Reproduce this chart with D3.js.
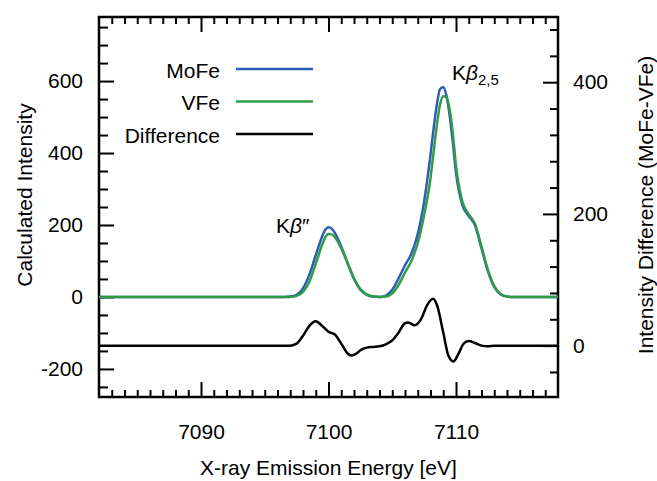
<!DOCTYPE html>
<html>
<head>
<meta charset="utf-8">
<script src="https://cdn.jsdelivr.net/npm/d3@7"></script>
<style>
  body { margin: 0; background: #fff; }
  svg text { font-family: "Liberation Sans", Arial, sans-serif; fill: #000; }
</style>
</head>
<body>
<div class="chart"></div>
<script>
// energies (eV) for the two calculated spectra
const energy = [7082, 7096, 7096.5, 7097, 7097.5, 7098, 7098.5, 7099, 7099.5, 7099.75, 7100, 7100.25, 7100.5,
	7101, 7101.5, 7102, 7102.5, 7103, 7103.5, 7104, 7104.5, 7105, 7105.5, 7106, 7106.5, 7107, 7107.5,
	7108, 7108.25, 7108.5, 7108.75, 7109, 7109.25, 7109.5, 7109.75, 7110, 7110.5, 7111, 7111.5,
	7112, 7112.5, 7113, 7113.5, 7114, 7114.5, 7118];
const mofe = [0, 0, 0, 1, 6, 24, 62, 116, 168, 187, 194, 190, 178,
	140, 94, 50, 20, 6, 1, 0, 4, 20, 52, 88, 120, 175, 265,
	395, 470, 535, 578, 583, 560, 505, 430, 345, 255, 225, 198,
	135, 72, 28, 7, 1, 0, 0];
const vfe = [0, 0, 0, 0, 3, 14, 42, 92, 145, 166, 175, 174, 166,
	135, 94, 52, 22, 7, 1, 0, 1, 10, 34, 68, 100, 150, 228,
	330, 405, 478, 535, 558, 555, 522, 455, 365, 265, 230, 202,
	140, 75, 30, 8, 1, 0, 0];

// difference curve (right axis)
const diffEnergy = [7082, 7097, 7097.5, 7098, 7098.5, 7099, 7099.5, 7100, 7100.5, 7101, 7101.5, 7101.8,
	7102.2, 7102.5, 7103, 7103.5, 7104, 7104.5, 7105, 7105.5, 7106, 7106.25, 7106.75, 7107.25, 7107.75,
	7108.2, 7108.5, 7109, 7109.4, 7109.8, 7110.2, 7110.6, 7111, 7111.5, 7112, 7112.5, 7113, 7118];
const diffValues = [0, 0, 3, 15, 30, 37, 30, 21, 17, 3, -12, -15,
	-12, -7, -3, -2, -1, 2, 8, 20, 34, 35, 31, 40, 62,
	71, 62, 20, -15, -24, -12, 3, 7, 4, 0, -1, 0, 0];

const legendLabels = ['MoFe', 'VFe', 'Difference'];
const leftTicks = [-200, 0, 200, 400, 600];
const rightTicks = [0, 200, 400];
const xTicks = [7090, 7100, 7110];

const colors = ['#2d5db6', '#2f9c47', '#000000'];

const width = 657, height = 481;
const svg = d3.select('.chart').append('svg')
	.attr('width', width)
	.attr('height', height);

const x = d3.scaleLinear().domain([7082, 7118]).range([99, 558]);
const yL = d3.scaleLinear().domain([-278, 778]).range([397, 17]);
const yR = d3.scaleLinear().domain([-78, 499]).range([397, 17]);

const fontSize = 21;
const plain = d => String(d); // hyphen minus like the original

// minor tick values
const xMinor = d3.range(7083, 7118).filter(v => v % 10 !== 0);
const leftMinor = d3.range(-250, 751, 50).filter(v => v % 200 !== 0);
const rightMinor = d3.range(-40, 481, 40).filter(v => v % 200 !== 0);

function styleAxis(g) {
	g.select('.domain').remove();
	g.selectAll('line').attr('stroke', '#000').attr('stroke-width', 2);
	g.selectAll('text').attr('font-size', fontSize + 'px').attr('font-family', '"Liberation Sans", Arial, sans-serif');
}

// bottom
svg.append('g').attr('transform', 'translate(0,397)')
	.call(d3.axisBottom(x).tickValues(xTicks).tickSize(-15).tickPadding(27).tickFormat(plain))
	.call(styleAxis);
svg.append('g').attr('transform', 'translate(0,397)')
	.call(d3.axisBottom(x).tickValues(xMinor).tickSize(-7).tickFormat(''))
	.call(styleAxis);
// top
svg.append('g').attr('transform', 'translate(0,17)')
	.call(d3.axisTop(x).tickValues(xTicks).tickSize(-15).tickFormat(''))
	.call(styleAxis);
svg.append('g').attr('transform', 'translate(0,17)')
	.call(d3.axisTop(x).tickValues(xMinor).tickSize(-7).tickFormat(''))
	.call(styleAxis);
// left
svg.append('g').attr('transform', 'translate(99,0)')
	.call(d3.axisLeft(yL).tickValues(leftTicks).tickSize(-15).tickPadding(16).tickFormat(plain))
	.call(styleAxis);
svg.append('g').attr('transform', 'translate(99,0)')
	.call(d3.axisLeft(yL).tickValues(leftMinor).tickSize(-9).tickFormat(''))
	.call(styleAxis);
// right
svg.append('g').attr('transform', 'translate(558,0)')
	.call(d3.axisRight(yR).tickValues(rightTicks).tickSize(-15).tickPadding(15).tickFormat(plain))
	.call(styleAxis);
svg.append('g').attr('transform', 'translate(558,0)')
	.call(d3.axisRight(yR).tickValues(rightMinor).tickSize(-8).tickFormat(''))
	.call(styleAxis);

// frame
svg.append('rect')
	.attr('x', 99).attr('y', 17)
	.attr('width', 558 - 99).attr('height', 397 - 17)
	.attr('fill', 'none')
	.attr('stroke', '#000')
	.attr('stroke-width', 2.5);

// curves
const lineL = d3.line()
	.x(d => x(d[0]))
	.y(d => yL(d[1]))
	.curve(d3.curveMonotoneX);
const lineR = d3.line()
	.x(d => x(d[0]))
	.y(d => yR(d[1]))
	.curve(d3.curveMonotoneX);

svg.append('path')
	.datum(energy.map((e, i) => [e, mofe[i]]))
	.attr('d', lineL)
	.attr('fill', 'none')
	.attr('stroke', colors[0])
	.attr('stroke-width', 2.5);
svg.append('path')
	.datum(energy.map((e, i) => [e, vfe[i]]))
	.attr('d', lineL)
	.attr('fill', 'none')
	.attr('stroke', colors[1])
	.attr('stroke-width', 2.5);
svg.append('path')
	.datum(diffEnergy.map((e, i) => [e, diffValues[i]]))
	.attr('d', lineR)
	.attr('fill', 'none')
	.attr('stroke', colors[2])
	.attr('stroke-width', 2.5);

// legend
const legend = svg.selectAll('.legend')
	.data(legendLabels)
	.enter()
	.append('g')
	.attr('class', 'legend')
	.attr('transform', (d, i) => `translate(0,${70 + i * 32.5})`);
legend.append('text')
	.attr('x', 220)
	.attr('y', 7.5)
	.attr('text-anchor', 'end')
	.attr('font-size', fontSize + 'px')
	.text(d => d);
legend.append('line')
	.attr('x1', 236).attr('x2', 313)
	.attr('y1', -1).attr('y2', -1)
	.attr('stroke', (d, i) => colors[i])
	.attr('stroke-width', 2.5);

// peak labels
const kb1 = svg.append('text')
	.attr('x', 276).attr('y', 233)
	.attr('font-size', fontSize + 'px');
kb1.append('tspan').text('K');
kb1.append('tspan').attr('font-style', 'italic').text('β');
kb1.append('tspan').text('″');

const kb2 = svg.append('text')
	.attr('x', 452).attr('y', 80)
	.attr('font-size', fontSize + 'px');
kb2.append('tspan').text('K');
kb2.append('tspan').attr('font-style', 'italic').text('β');
kb2.append('tspan').attr('font-size', '15px').attr('dy', 5).text('2,5');

// axis titles
svg.append('text')
	.attr('x', (99 + 558) / 2)
	.attr('y', 475)
	.attr('text-anchor', 'middle')
	.attr('font-size', fontSize + 'px')
	.text('X-ray Emission Energy [eV]');
svg.append('text')
	.attr('transform', 'translate(32,195) rotate(-90)')
	.attr('text-anchor', 'middle')
	.attr('font-size', fontSize + 'px')
	.text('Calculated Intensity');
svg.append('text')
	.attr('transform', 'translate(653,205) rotate(-90)')
	.attr('text-anchor', 'middle')
	.attr('font-size', fontSize + 'px')
	.text('Intensity Difference (MoFe-VFe)');
</script>
</body>
</html>
